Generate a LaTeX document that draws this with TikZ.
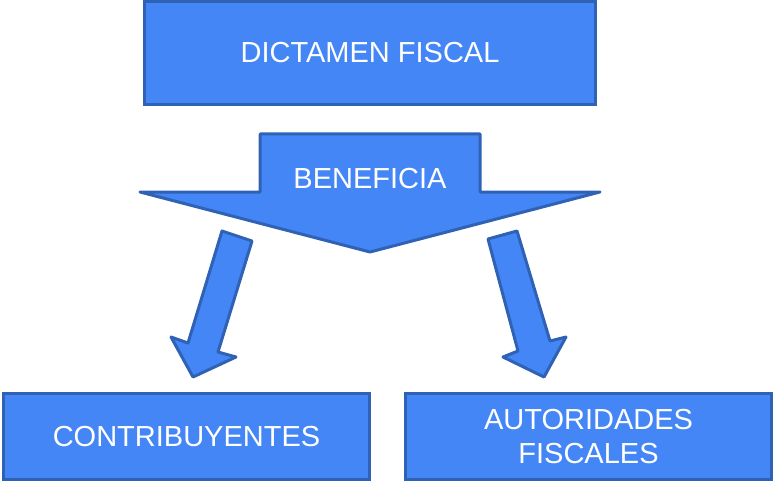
\documentclass[tikz,border=0pt]{standalone}
\usepackage{fontspec}
\setmainfont{Liberation Sans}
\definecolor{boxfill}{HTML}{4486F5}
\definecolor{boxline}{HTML}{2F62B5}

\begin{document}
\begin{tikzpicture}[x=1pt,y=-1pt,
  box/.style={draw=boxline, fill=boxfill, line width=3pt, text=white,
    font=\fontsize{29}{34}\selectfont, align=center, inner sep=0pt},
  bigarrow/.style={draw=boxline, fill=boxfill, line width=3pt, line join=round}]

  % Fix the page to the size of the reference
  \useasboundingbox (0,0) rectangle (775,489);

  % The box at the top
  \node[box, minimum width=451pt, minimum height=103pt] (dictamen) at (370,53) {DICTAMEN FISCAL};

  % The wide arrow under it, with its label
  \coordinate (stemL) at (260,134);
  \coordinate (stemR) at (480,134);
  \coordinate (tip) at (370,252);
  \draw[bigarrow] (stemL) -- (stemR) -- (480,192) -- (600,192) -- (tip)
    -- (140,192) -- (260,192) -- cycle;
  \node[text=white, font=\fontsize{29}{34}\selectfont] (beneficia) at (370,179) {BENEFICIA};

  % The two small arrows, pointing down to the boxes
  \draw[bigarrow] (222,231) -- (252,241) -- (218,352) -- (236,357) -- (193,377)
    -- (171,337) -- (188,343) -- cycle;
  \draw[bigarrow] (488,239) -- (517,231) -- (550,341) -- (566,337) -- (544,377)
    -- (503,357) -- (518,351) -- cycle;

  % The two boxes at the bottom
  \node[box, minimum width=366pt, minimum height=86pt] (contribuyentes) at (186.5,436.5) {CONTRIBUYENTES};
  \node[box, minimum width=366pt, minimum height=86pt] (autoridades) at (588.5,436.5) {AUTORIDADES\\FISCALES};

\end{tikzpicture}
\end{document}
